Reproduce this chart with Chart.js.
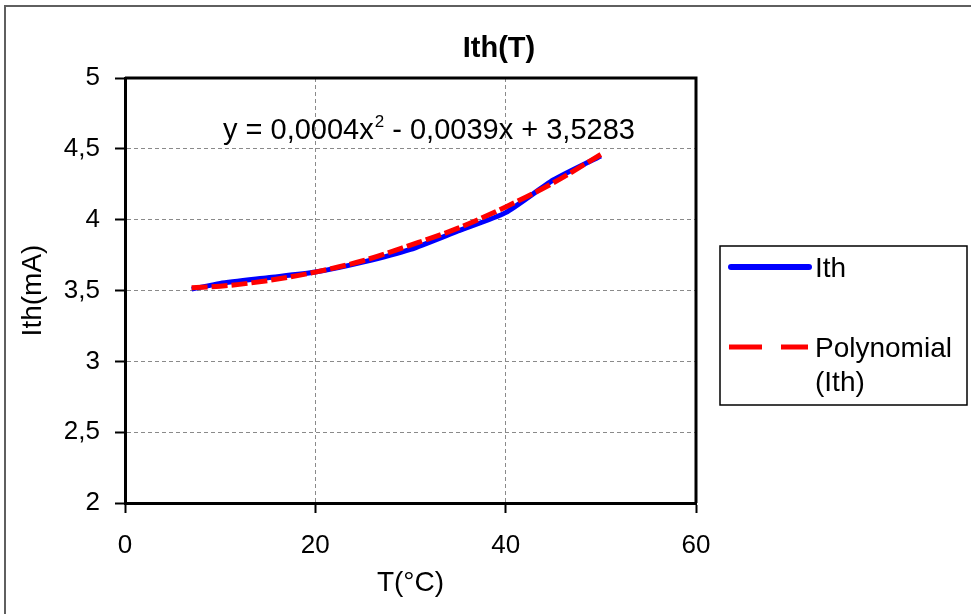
<!DOCTYPE html>
<html>
<head>
<meta charset="utf-8">
<title>Ith(T)</title>
<script src="https://cdn.jsdelivr.net/npm/chart.js@4.4.1/dist/chart.umd.min.js"></script>
<style>
  html, body { margin: 0; padding: 0; background: #ffffff; }
  #wrap { width: 971px; height: 614px; position: relative; }
</style>
</head>
<body>
<div id="wrap"><canvas id="chart" width="971" height="614"></canvas></div>
<script>
// Threshold current versus temperature
const temps = [7, 10, 15, 20, 25, 30, 35, 40, 45, 50];
const ith = [3.51, 3.55, 3.59, 3.63, 3.70, 3.79, 3.92, 4.05, 4.28, 4.45];
// Second-order trendline of Ith, read at the same temperatures
const trend = [3.52, 3.53, 3.57, 3.63, 3.71, 3.82, 3.94, 4.09, 4.26, 4.46];
const xTicks = [0, 20, 40, 60];
const yTicks = [2, 2.5, 3, 3.5, 4, 4.5, 5];

const chartTitle = 'Ith(T)';
const xTitle = 'T(°C)';
const yTitle = 'Ith(mA)';
const equationParts = ['y = 0,0004x', '2', ' - 0,0039x + 3,5283'];
const seriesNames = ['Ith', 'Polynomial', '(Ith)'];

const FONT = '"Liberation Sans", Arial, Helvetica, sans-serif';
const fmt = v => String(v).replace('.', ',');

// Title, trendline equation, legend box, plot frame and outer border
const decor = {
  id: 'decor',
  beforeDatasetsDraw(chart) {
    const { ctx, chartArea: a } = chart;
    ctx.save();
    ctx.strokeStyle = '#000';
    ctx.lineWidth = 3;
    ctx.beginPath();
    ctx.moveTo(a.left, a.top);
    ctx.lineTo(a.right, a.top);
    ctx.lineTo(a.right, a.bottom);
    ctx.stroke();
    ctx.restore();
  },
  afterDraw(chart) {
    const { ctx } = chart;
    ctx.save();

    // outer chart border
    ctx.strokeStyle = '#5f5f5f';
    ctx.lineWidth = 2;
    ctx.strokeRect(5, 6, 1000, 700);

    // chart title
    ctx.fillStyle = '#000';
    ctx.font = 'bold 29px ' + FONT;
    ctx.textAlign = 'center';
    ctx.textBaseline = 'middle';
    ctx.fillText(chartTitle, 499, 49);

    // trendline equation
    ctx.textAlign = 'left';
    ctx.textBaseline = 'alphabetic';
    let ex = 223;
    ctx.font = '29px ' + FONT;
    ctx.fillText(equationParts[0], ex, 139);
    ex += ctx.measureText(equationParts[0]).width + 1;
    ctx.font = '17px ' + FONT;
    ctx.fillText(equationParts[1], ex, 127);
    ex += ctx.measureText(equationParts[1]).width;
    ctx.font = '29px ' + FONT;
    ctx.fillText(equationParts[2], ex, 139);

    // legend
    ctx.fillStyle = '#fff';
    ctx.fillRect(720, 246, 247, 159);
    ctx.strokeStyle = '#000';
    ctx.lineWidth = 1.5;
    ctx.strokeRect(720, 246, 247, 159);

    const ds = chart.data.datasets;
    ctx.lineCap = 'round';
    ctx.strokeStyle = ds[1].borderColor;
    ctx.lineWidth = 6;
    ctx.beginPath();
    ctx.moveTo(731, 267);
    ctx.lineTo(809, 267);
    ctx.stroke();

    ctx.lineCap = 'butt';
    ctx.strokeStyle = ds[0].borderColor;
    ctx.lineWidth = 5;
    ctx.beginPath();
    ctx.moveTo(729, 347);
    ctx.lineTo(762, 347);
    ctx.moveTo(781, 347);
    ctx.lineTo(808, 347);
    ctx.stroke();

    ctx.fillStyle = '#000';
    ctx.font = '28px ' + FONT;
    ctx.textBaseline = 'middle';
    ctx.fillText(seriesNames[0], 815, 269);
    ctx.fillText(seriesNames[1], 815, 349);
    ctx.fillText(seriesNames[2], 815, 383);

    ctx.restore();
  }
};

new Chart(document.getElementById('chart'), {
  type: 'line',
  data: {
    datasets: [
      {
        label: 'Polynomial (Ith)',
        data: temps.map((t, i) => ({ x: t, y: trend[i] })),
        borderColor: '#ff0000',
        borderWidth: 5,
        borderDash: [16, 4],
        pointRadius: 0,
        cubicInterpolationMode: 'monotone',
        fill: false,
        order: 1
      },
      {
        label: 'Ith',
        data: temps.map((t, i) => ({ x: t, y: ith[i] })),
        borderColor: '#0000ff',
        borderWidth: 5,
        pointRadius: 0,
        tension: 0.2,
        fill: false,
        order: 2
      }
    ]
  },
  options: {
    responsive: false,
    animation: false,
    devicePixelRatio: 1,
    layout: { padding: { left: 0, top: 78, right: 275, bottom: 0 } },
    plugins: {
      legend: { display: false },
      title: { display: false },
      tooltip: { enabled: false }
    },
    scales: {
      x: {
        type: 'linear',
        min: 0,
        max: 60,
        afterBuildTicks: s => { s.ticks = xTicks.map(v => ({ value: v })); },
        afterFit: s => { s.height = 111; },
        ticks: {
          color: '#000',
          font: { family: FONT, size: 26 },
          padding: 17,
          maxRotation: 0,
          callback: v => fmt(v)
        },
        grid: {
          color: '#8a8a8a',
          lineWidth: 1,
          tickLength: 10,
          tickColor: '#000',
          tickWidth: 2,
          tickBorderDash: []
        },
        border: { display: true, color: '#000', width: 3, dash: [4, 3] },
        title: {
          display: true,
          text: xTitle,
          color: '#000',
          font: { family: FONT, size: 28 },
          padding: { top: 0, bottom: 14 }
        }
      },
      y: {
        type: 'linear',
        min: 2,
        max: 5,
        afterBuildTicks: s => { s.ticks = yTicks.map(v => ({ value: v })); },
        afterFit: s => { s.width = 125; },
        ticks: {
          color: '#000',
          font: { family: FONT, size: 26 },
          padding: 15,
          callback: v => fmt(v)
        },
        grid: {
          color: '#8a8a8a',
          lineWidth: 1,
          tickLength: 10,
          tickColor: '#000',
          tickWidth: 2,
          tickBorderDash: []
        },
        border: { display: true, color: '#000', width: 3, dash: [4, 3] },
        title: {
          display: true,
          text: yTitle,
          color: '#000',
          font: { family: FONT, size: 28 },
          padding: { top: 16, bottom: 0 }
        }
      }
    }
  },
  plugins: [decor]
});
</script>
</body>
</html>
